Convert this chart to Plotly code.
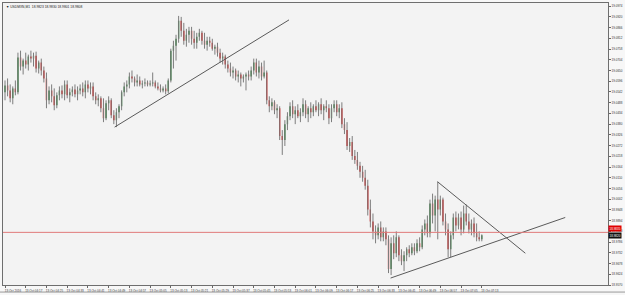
import plotly.graph_objects as go

bar_index = list(range(185))

open_ = [19.0540,19.0575,19.0550,19.0510,19.0560,19.0540,19.0715,19.0670,19.0700,19.0680,
19.0720,19.0710,19.0725,19.0660,19.0690,19.0650,19.0610,19.0500,19.0550,19.0520,
19.0475,19.0525,19.0550,19.0530,19.0580,19.0525,19.0540,19.0555,19.0530,19.0550,
19.0560,19.0540,19.0580,19.0560,19.0570,19.0520,19.0500,19.0510,19.0460,19.0410,
19.0485,19.0500,19.0425,19.0400,19.0440,19.0470,19.0540,19.0570,19.0580,19.0620,
19.0610,19.0590,19.0600,19.0580,19.0585,19.0590,19.0580,19.0585,19.0590,19.0570,
19.0560,19.0550,19.0560,19.0545,19.0600,19.0750,19.0775,19.0810,19.0900,19.0850,
19.0800,19.0830,19.0850,19.0810,19.0790,19.0820,19.0840,19.0800,19.0780,19.0800,
19.0790,19.0760,19.0770,19.0740,19.0710,19.0720,19.0680,19.0660,19.0640,19.0650,
19.0620,19.0630,19.0610,19.0620,19.0630,19.0620,19.0650,19.0690,19.0640,19.0670,
19.0620,19.0640,19.0500,19.0470,19.0490,19.0450,19.0460,19.0320,19.0300,19.0380,
19.0420,19.0470,19.0430,19.0450,19.0420,19.0440,19.0480,19.0430,19.0460,19.0440,
19.0470,19.0450,19.0480,19.0450,19.0470,19.0460,19.0410,19.0460,19.0480,19.0440,
19.0460,19.0380,19.0350,19.0270,19.0290,19.0220,19.0200,19.0170,19.0140,19.0110,
19.0070,18.9950,18.9890,18.9840,18.9820,18.9860,18.9810,18.9840,18.9800,18.9650,
18.9780,18.9730,18.9810,18.9720,18.9690,18.9720,18.9750,18.9730,18.9760,18.9740,
18.9780,18.9760,18.9850,18.9880,18.9830,18.9980,18.9920,19.0000,18.9950,19.0000,
18.9890,18.9850,18.9750,18.9820,18.9910,18.9870,18.9910,18.9850,18.9930,18.9890,
18.9850,18.9880,18.9830,18.9810,18.9800]

high = [19.0600,19.0610,19.0580,19.0570,19.0600,19.0740,19.0750,19.0710,19.0740,19.0730,
19.0750,19.0740,19.0745,19.0700,19.0710,19.0670,19.0640,19.0570,19.0580,19.0560,
19.0540,19.0570,19.0575,19.0600,19.0600,19.0560,19.0570,19.0580,19.0570,19.0580,
19.0590,19.0600,19.0600,19.0590,19.0590,19.0540,19.0530,19.0520,19.0510,19.0500,
19.0520,19.0510,19.0450,19.0460,19.0480,19.0550,19.0590,19.0600,19.0640,19.0650,
19.0620,19.0630,19.0620,19.0600,19.0610,19.0600,19.0600,19.0640,19.0600,19.0590,
19.0580,19.0570,19.0580,19.0610,19.0760,19.0800,19.0830,19.0925,19.0920,19.0890,
19.0860,19.0870,19.0870,19.0850,19.0840,19.0860,19.0850,19.0840,19.0820,19.0820,
19.0810,19.0780,19.0790,19.0760,19.0740,19.0730,19.0700,19.0690,19.0670,19.0660,
19.0650,19.0640,19.0630,19.0640,19.0650,19.0670,19.0710,19.0710,19.0700,19.0690,
19.0700,19.0650,19.0520,19.0510,19.0500,19.0480,19.0470,19.0350,19.0400,19.0440,
19.0490,19.0500,19.0470,19.0480,19.0460,19.0510,19.0500,19.0470,19.0490,19.0480,
19.0500,19.0490,19.0510,19.0480,19.0500,19.0480,19.0480,19.0500,19.0500,19.0480,
19.0490,19.0410,19.0390,19.0310,19.0320,19.0250,19.0240,19.0190,19.0170,19.0150,
19.0100,19.0000,18.9930,18.9870,18.9880,18.9890,18.9860,18.9860,18.9820,18.9810,
18.9820,18.9840,18.9820,18.9750,18.9740,18.9760,18.9770,18.9780,18.9780,18.9800,
18.9810,18.9870,18.9900,18.9920,19.0000,19.0030,19.0020,19.0090,19.0020,19.0010,
18.9930,18.9880,18.9840,18.9930,18.9940,18.9930,18.9940,18.9970,18.9975,18.9930,
18.9900,18.9910,18.9880,18.9840,18.9825]

low = [19.0500,19.0520,19.0490,19.0480,19.0525,19.0530,19.0650,19.0630,19.0660,19.0650,
19.0690,19.0670,19.0640,19.0635,19.0625,19.0590,19.0460,19.0480,19.0490,19.0450,
19.0460,19.0500,19.0510,19.0500,19.0510,19.0490,19.0520,19.0515,19.0500,19.0530,
19.0520,19.0510,19.0540,19.0530,19.0500,19.0480,19.0470,19.0440,19.0390,19.0400,
19.0450,19.0410,19.0380,19.0365,19.0410,19.0450,19.0520,19.0540,19.0560,19.0590,
19.0570,19.0570,19.0570,19.0560,19.0570,19.0570,19.0570,19.0570,19.0560,19.0550,
19.0540,19.0540,19.0530,19.0535,19.0590,19.0660,19.0700,19.0790,19.0820,19.0780,
19.0770,19.0790,19.0780,19.0760,19.0760,19.0800,19.0780,19.0760,19.0750,19.0770,
19.0750,19.0730,19.0720,19.0690,19.0680,19.0660,19.0640,19.0620,19.0610,19.0600,
19.0590,19.0570,19.0590,19.0550,19.0600,19.0600,19.0630,19.0620,19.0610,19.0600,
19.0610,19.0480,19.0440,19.0450,19.0430,19.0410,19.0300,19.0225,19.0270,19.0350,
19.0400,19.0410,19.0380,19.0410,19.0390,19.0420,19.0410,19.0390,19.0410,19.0420,
19.0440,19.0420,19.0430,19.0400,19.0440,19.0380,19.0390,19.0440,19.0420,19.0410,
19.0360,19.0330,19.0250,19.0240,19.0200,19.0180,19.0150,19.0110,19.0090,19.0050,
18.9920,18.9860,18.9800,18.9780,18.9800,18.9790,18.9790,18.9770,18.9630,18.9620,
18.9700,18.9710,18.9690,18.9670,18.9640,18.9690,18.9710,18.9720,18.9720,18.9730,
18.9740,18.9750,18.9820,18.9810,18.9810,18.9880,18.9840,18.9800,18.9920,18.9870,
18.9820,18.9710,18.9710,18.9800,18.9840,18.9850,18.9820,18.9830,18.9870,18.9830,
18.9820,18.9810,18.9790,18.9790,18.9790]

close = [19.0575,19.0550,19.0510,19.0560,19.0540,19.0715,19.0670,19.0700,19.0680,19.0720,
19.0710,19.0725,19.0660,19.0690,19.0650,19.0610,19.0500,19.0550,19.0520,19.0475,
19.0525,19.0550,19.0530,19.0580,19.0525,19.0540,19.0555,19.0530,19.0550,19.0560,
19.0540,19.0580,19.0560,19.0570,19.0520,19.0500,19.0510,19.0460,19.0410,19.0485,
19.0500,19.0425,19.0400,19.0440,19.0470,19.0540,19.0570,19.0580,19.0620,19.0610,
19.0590,19.0600,19.0580,19.0585,19.0590,19.0580,19.0585,19.0590,19.0570,19.0560,
19.0550,19.0560,19.0545,19.0600,19.0750,19.0775,19.0810,19.0900,19.0850,19.0800,
19.0830,19.0850,19.0810,19.0790,19.0820,19.0840,19.0800,19.0780,19.0800,19.0790,
19.0760,19.0770,19.0740,19.0710,19.0720,19.0680,19.0660,19.0640,19.0650,19.0620,
19.0630,19.0610,19.0620,19.0630,19.0620,19.0650,19.0690,19.0640,19.0670,19.0620,
19.0640,19.0500,19.0470,19.0490,19.0450,19.0460,19.0320,19.0300,19.0380,19.0420,
19.0470,19.0430,19.0450,19.0420,19.0440,19.0480,19.0430,19.0460,19.0440,19.0470,
19.0450,19.0480,19.0450,19.0470,19.0460,19.0410,19.0460,19.0480,19.0440,19.0460,
19.0380,19.0350,19.0270,19.0290,19.0220,19.0200,19.0170,19.0140,19.0110,19.0070,
18.9950,18.9890,18.9840,18.9820,18.9860,18.9810,18.9840,18.9800,18.9650,18.9780,
18.9730,18.9810,18.9720,18.9690,18.9720,18.9750,18.9730,18.9760,18.9740,18.9780,
18.9760,18.9850,18.9880,18.9830,18.9980,18.9920,19.0000,18.9950,19.0000,18.9890,
18.9850,18.9750,18.9820,18.9910,18.9870,18.9910,18.9850,18.9930,18.9890,18.9850,
18.9880,18.9830,18.9810,18.9800,18.9820]

# trend lines drawn by the trader (bar index, price)
trend1_x = [42.3, 109.6]
trend1_y = [19.0365, 19.0905]
trend2_x = [148.8, 216.2]
trend2_y = [18.9605, 18.9910]
trend3_x = [166.9, 200.8]
trend3_y = [19.0090, 18.9730]

hline_price = 18.9835
bid_price = 18.9820

price_ticks = [18.9570, 18.9624, 18.9678, 18.9732, 18.9786, 18.9840, 18.9894, 18.9948,
               19.0002, 19.0056, 19.0110, 19.0164, 19.0218, 19.0272, 19.0326, 19.0380,
               19.0434, 19.0488, 19.0542, 19.0596, 19.0650, 19.0704, 19.0758, 19.0812,
               19.0866, 19.0920, 19.0974]

time_tick_bars = [0, 8, 16, 24, 32, 40, 48, 56, 64, 72, 80, 88, 96, 104, 112, 120,
                  128, 136, 144, 152, 160, 168, 176, 184]
time_tick_labels = ["13 Oct 2016", "13 Oct 04:17", "13 Oct 04:25", "13 Oct 04:33",
                    "13 Oct 04:41", "13 Oct 04:49", "13 Oct 04:57", "13 Oct 05:05",
                    "13 Oct 05:13", "13 Oct 05:21", "13 Oct 05:29", "13 Oct 05:37",
                    "13 Oct 05:45", "13 Oct 05:53", "13 Oct 06:01", "13 Oct 06:09",
                    "13 Oct 06:17", "13 Oct 06:25", "13 Oct 06:33", "13 Oct 06:41",
                    "13 Oct 06:49", "13 Oct 06:57", "13 Oct 07:05", "13 Oct 07:13"]

title_text = "▼ USDMXN,M1  18.9823 18.9830 18.9801 18.9808"

# wick segments
wx, wy = [], []
for i, h, l in zip(bar_index, high, low):
    wx += [i, i, None]
    wy += [l, h, None]

fig = go.Figure()
fig.add_trace(go.Scatter(x=wx, y=wy, mode="lines",
                         line=dict(color="#7d7d7d", width=1), hoverinfo="skip",
                         showlegend=False))
fig.add_trace(go.Candlestick(
    x=bar_index, open=open_, high=high, low=low, close=close,
    increasing=dict(fillcolor="#0d6e1c", line=dict(color="#0d6e1c", width=0)),
    decreasing=dict(fillcolor="#e10000", line=dict(color="#e10000", width=0)),
    whiskerwidth=0, showlegend=False))

for tx, ty in [(trend1_x, trend1_y), (trend2_x, trend2_y), (trend3_x, trend3_y)]:
    fig.add_trace(go.Scatter(x=tx, y=ty, mode="lines",
                             line=dict(color="#5a5a5a", width=1), showlegend=False,
                             hoverinfo="skip"))

fig.add_hline(y=hline_price, line=dict(color="#e07a7a", width=1))

fig.add_annotation(x=1.0, xref="paper", y=hline_price, yref="y", text="18.9835",
                   xanchor="left", yanchor="bottom", showarrow=False,
                   font=dict(size=3, color="white", family="Liberation Sans"),
                   bgcolor="#e00000", borderpad=0.5)
fig.add_annotation(x=1.0, xref="paper", y=hline_price, yref="y", text="18.9820",
                   xanchor="left", yanchor="top", showarrow=False,
                   font=dict(size=3, color="white", family="Liberation Sans"),
                   bgcolor="#111111", borderpad=0.5)

fig.add_annotation(x=0.002, xref="paper", y=1.0, yref="paper", text=title_text,
                   xanchor="left", yanchor="top", showarrow=False,
                   font=dict(size=3.3, color="#222222", family="Liberation Sans"))

fig.add_shape(type="line", xref="paper", yref="paper", x0=-0.01, x1=1.03,
              y0=-0.025, y1=-0.025, line=dict(color="#9a9a9a", width=1))

fig.update_layout(
    width=625, height=295,
    margin=dict(l=3, r=15, t=2, b=9),
    paper_bgcolor="#f7f7f7",
    plot_bgcolor="#f3f3f3",
    showlegend=False,
    xaxis=dict(range=[-0.77, 232.7], rangeslider=dict(visible=False),
               tickvals=time_tick_bars, ticktext=time_tick_labels,
               tickfont=dict(size=3, color="#333333", family="Liberation Sans"),
               ticks="outside", ticklen=2, tickcolor="#666666",
               ticklabelshift=8,
               showgrid=False, zeroline=False,
               showline=True, mirror=True, linecolor="#6e6e6e", linewidth=1),
    yaxis=dict(range=[18.9570, 19.0990], side="right",
               tickvals=price_ticks, ticktext=[f"{v:.4f}" for v in price_ticks],
               tickfont=dict(size=3, color="#333333", family="Liberation Sans"),
               ticks="outside", ticklen=2, tickcolor="#666666",
               showgrid=False, zeroline=False,
               showline=True, mirror=True, linecolor="#6e6e6e", linewidth=1),
)

fig.write_html("out.html")
